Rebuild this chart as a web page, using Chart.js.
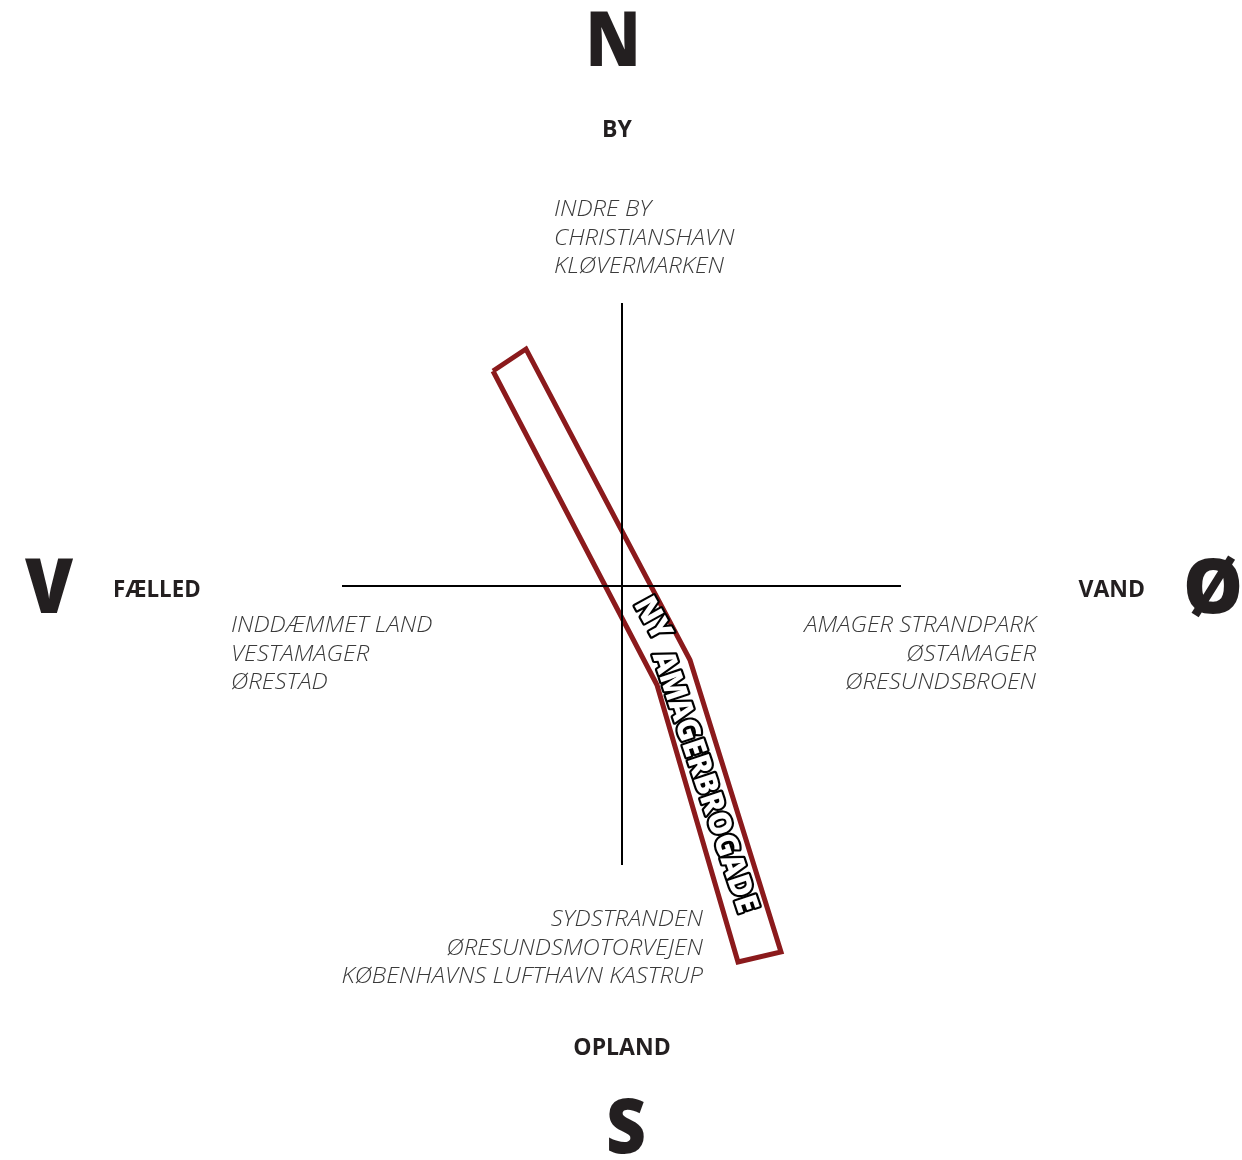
<!DOCTYPE html>
<html lang="da">
  <head>
    <meta charset="UTF-8" />
    <title>Ny Amagerbrogade</title>
    <script src="https://cdn.jsdelivr.net/npm/chart.js"></script>
    <style>
      body { margin: 0; background: #fff; }
      #wrap { width: 1242px; height: 1160px; position: relative; }
    </style>
  </head>
  <body>
    <div id="wrap"><canvas id="compass"></canvas></div>
    <script>
      // road outline, x/y relative to the cross centre (y up)
      const roadX = [-129, -96, 68, 159, 116, 35, -129];
      const roadY = [215, 237, -74, -366, -376, -99, 215];
      const roadName = ["NY", "AMAGERBROGADE"];

      const axisX = [-280, 279];
      const axisY = [283, -279];

      const compass = ["N", "Ø", "S", "V"];
      const themes = ["BY", "VAND", "OPLAND", "FÆLLED"];
      const placesN = ["INDRE BY", "CHRISTIANSHAVN", "KLØVERMARKEN"];
      const placesE = ["AMAGER STRANDPARK", "ØSTAMAGER", "ØRESUNDSBROEN"];
      const placesS = ["SYDSTRANDEN", "ØRESUNDSMOTORVEJEN", "KØBENHAVNS LUFTHAVN KASTRUP"];
      const placesW = ["INDDÆMMET LAND", "VESTAMAGER", "ØRESTAD"];

      const dark = "#231f20";
      const grey = "#3a3a3a";
      const font = "'Open Sans', 'DejaVu Sans', sans-serif";

      const labelsPlugin = {
        id: "labels",
        afterDatasetsDraw(chart) {
          const ctx = chart.ctx;
          const sx = chart.scales.x, sy = chart.scales.y;
          const px = (v) => sx.getPixelForValue(v);
          const py = (v) => sy.getPixelForValue(v);

          // stretch = horizontal scale, the original type is a bit wider / narrower
          function text(str, x, y, align, f, color, stretch) {
            ctx.save();
            ctx.font = f;
            ctx.fillStyle = color;
            ctx.textAlign = align;
            ctx.textBaseline = "alphabetic";
            ctx.translate(px(x), py(y));
            ctx.scale(stretch || 1, 1);
            ctx.fillText(str, 0, 0);
            ctx.restore();
          }
          function block(lines, x, y, align) {
            lines.forEach((l, i) => {
              text(l, x, y - i * 28.6, align, "italic 300 22px " + font, grey, 1.09);
            });
          }

          const big = "800 77px " + font;
          const bold = "700 23px " + font;
          text(compass[0], -9, 520, "center", big, dark, 0.86);
          text(compass[1], 591, -27, "center", big, dark, 0.98);
          text(compass[2], 4, -567, "center", big, dark, 0.9);
          text(compass[3], -573, -27, "center", big, dark, 0.9);

          text(themes[0], -5, 449, "center", bold, dark);
          text(themes[1], 523, -11, "right", bold, dark);
          text(themes[2], 0, -469, "center", bold, dark);
          text(themes[3], -509, -11, "left", bold, dark, 0.97);

          block(placesN, -68, 370, "left");
          block(placesE, 414, -46, "right");
          block(placesS, 81, -340, "right");
          block(placesW, -391, -46, "left");

          // street name inside the road, outlined
          function roadText(str, cx, cy, deg, len, size) {
            ctx.save();
            ctx.translate(px(cx), py(cy));
            ctx.rotate((deg * Math.PI) / 180);
            ctx.font = "800 " + size + "px " + font;
            const w = ctx.measureText(str).width;
            ctx.scale(len / w, 1);
            ctx.textAlign = "center";
            ctx.textBaseline = "middle";
            ctx.lineJoin = "round";
            ctx.lineWidth = 4.5;
            ctx.strokeStyle = "#000";
            ctx.strokeText(str, 0, 0);
            ctx.fillStyle = "#fff";
            ctx.fillText(str, 0, 0);
            ctx.restore();
          }
          roadText(roadName[0], 30, -33, 61, 44, 31);
          roadText(roadName[1], 82, -196, 71.5, 274, 31);
        },
      };

      const pts = (xs, ys) => xs.map((x, i) => ({ x: x, y: ys[i] }));

      new Chart(document.getElementById("compass"), {
        type: "scatter",
        data: {
          datasets: [
            {
              label: "aksen V-Ø",
              data: pts(axisX, [0, 0]),
              showLine: true,
              borderColor: "#000",
              borderWidth: 2,
              pointRadius: 0,
            },
            {
              label: "aksen N-S",
              data: pts([0, 0], axisY),
              showLine: true,
              borderColor: "#000",
              borderWidth: 2,
              pointRadius: 0,
            },
            {
              label: "Ny Amagerbrogade",
              data: pts(roadX, roadY),
              showLine: true,
              borderColor: "#8b1a1c",
              backgroundColor: "rgba(0,0,0,0)",
              borderWidth: 5,
              borderJoinStyle: "miter",
              pointRadius: 0,
            },
          ],
        },
        options: {
          responsive: true,
          maintainAspectRatio: false,
          animation: false,
          layout: { padding: 0 },
          plugins: { legend: { display: false }, tooltip: { enabled: false } },
          scales: {
            x: { type: "linear", min: -622, max: 620, display: false },
            y: { type: "linear", min: -574, max: 586, display: false },
          },
        },
        plugins: [labelsPlugin],
      });
    </script>
  </body>
</html>
